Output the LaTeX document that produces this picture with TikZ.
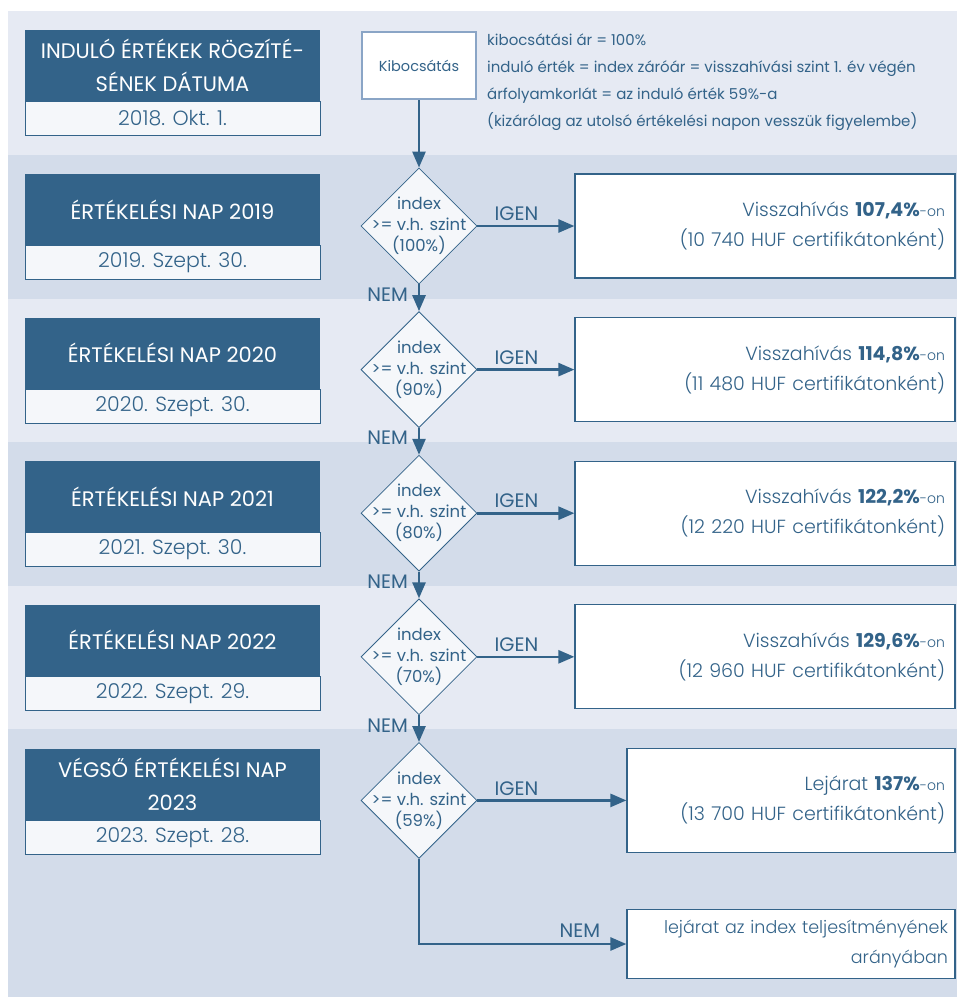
\documentclass[tikz,border=0pt]{standalone}
\usepackage{fontspec}
\setmainfont{Poppins}
\newfontfamily\thin{Poppins Light}
\usetikzlibrary{positioning,shapes.geometric,arrows.meta}

\definecolor{navy}{HTML}{336389}
\definecolor{bandA}{HTML}{E6EAF3}
\definecolor{bandB}{HTML}{D3DCEA}
\definecolor{paper}{HTML}{F5F7FA}
\definecolor{frame}{HTML}{8AA5C6}

\tikzset{
  flow/.style={navy, line width=2.6pt, -{Triangle[length=16pt,width=13pt]}},
  headbox/.style={fill=navy, text=white, minimum width=295pt, minimum height=71pt,
    align=center, inner sep=0pt, font=\fontsize{21}{33}\selectfont},
  datebox/.style={draw=navy, line width=1pt, fill=paper, text=navy, minimum width=295pt,
    minimum height=34pt, inner sep=0pt, font=\thin\fontsize{20.5}{22}\selectfont},
  decision/.style={diamond, draw=navy, fill=paper, line width=0.8pt, shape aspect=1,
    minimum width=116pt, minimum height=116pt, inner sep=0pt},
  dtext/.style={text=navy, align=center, inner sep=0pt, font=\fontsize{16.5}{21}\selectfont},
  resultbox/.style={draw=navy, fill=white, line width=1.2pt, text=navy, align=right,
    text width=360pt, inner xsep=10pt, minimum height=104pt,
    font=\thin\fontsize{19}{30}\selectfont},
  answer/.style={text=navy, inner sep=0pt, font=\fontsize{19.5}{19.5}\selectfont},
}

\begin{document}
\begin{tikzpicture}[x=1pt, y=-1pt]
  \useasboundingbox (0,0) rectangle (957,997);
  \fill[white] (0,0) rectangle (957,997);
  % bands
  \fill[bandA] (8,11) rectangle (957,155);
  \foreach \i in {1,...,4}{
    \pgfmathsetmacro\top{155+143.6*(\i-1)}
    \ifodd\i \fill[bandB] (8,\top) rectangle (957,\top+143.6);
    \else \fill[bandA] (8,\top) rectangle (957,\top+143.6); \fi
  }
  \fill[bandB] (8,729.4) rectangle (957,997);

  % start
  \node[headbox] (h0) at (172.5,65) {INDULÓ ÉRTÉKEK RÖGZÍTÉ-\\SÉNEK DÁTUMA};
  \node[datebox, below=0pt of h0] (dt0) {2018. Okt. 1.};
  \node[draw=frame, line width=2pt, fill=white, text=navy, minimum width=114pt,
    minimum height=67pt, font=\fontsize{14.5}{14.5}\selectfont] (kib) at (419,65.5) {Kibocsátás};
  \node[text=navy, anchor=north west, align=left, inner sep=0pt,
    font=\fontsize{15}{27}\selectfont] (terms) at (487,34)
    {kibocsátási ár = 100\%\\
     induló érték = index záróár = visszahívási szint 1. év végén\\
     árfolyamkorlát = az induló érték 59\%-a\\
     (kizárólag az utolsó értékelési napon vesszük figyelembe)};

  % yearly observation days
  \foreach \i/\yr/\when/\lvl/\pc/\huf in {
      1/2019/{2019. Szept. 30.}/100/{107,4}/{10 740},
      2/2020/{2020. Szept. 30.}/90/{114,8}/{11 480},
      3/2021/{2021. Szept. 30.}/80/{122,2}/{12 220},
      4/2022/{2022. Szept. 29.}/70/{129,6}/{12 960}}{
    \pgfmathsetmacro\yy{226+143.6*(\i-1)}
    \node[headbox] (h\i) at (172.5,\yy-16.5) {ÉRTÉKELÉSI NAP \yr};
    \node[datebox, below=0pt of h\i] (dt\i) {\when};
    \node[decision] (d\i) at (419,\yy) {};
    \node[dtext] (q\i) at (d\i) {index\\>= v.h. szint\\(\lvl\%)};
    \node[resultbox] (r\i) at (765,\yy)
      {Visszahívás {\normalfont\bfseries \pc\%}{\fontsize{14}{30}\selectfont-on}\\(\huf{} HUF certifikátonként)};
    \draw[flow] (d\i) -- (r\i);
    \node[answer, above right=5pt and 17pt of d\i.east] (yes\i) {IGEN};
  }

  % final observation day
  \node[headbox] (h5) at (172.5,784) {VÉGSŐ ÉRTÉKELÉSI NAP\\2023};
  \node[datebox, below=0pt of h5] (dt5) {2023. Szept. 28.};
  \node[decision] (d5) at (419,800.4) {};
  \node[dtext] (q5) at (d5) {index\\>= v.h. szint\\(59\%)};
  \node[resultbox, text width=308pt] (r5) at (791,800.4)
    {Lejárat {\normalfont\bfseries 137\%}{\fontsize{14}{30}\selectfont-on}\\(13 700 HUF certifikátonként)};
  \node[resultbox, text width=314pt, inner xsep=7pt, minimum height=69pt,
    font=\thin\fontsize{17.5}{30}\selectfont] (fin) at (791,944)
    {lejárat az index teljesítményének\\arányában};
  \draw[flow] (d5) -- (r5);
  \node[answer, above right=5pt and 17pt of d5.east] (yes5) {IGEN};
  \draw[flow] (d5.south) |- (fin.west);
  \node[answer, above left=6pt and 26pt of fin.west] (no5) {NEM};

  % NEM branches
  \draw[flow] (kib) -- (d1);
  \foreach \i/\j in {1/2,2/3,3/4,4/5}{
    \draw[flow] (d\i) -- (d\j);
    \node[answer, anchor=north east] (no\i) at ([xshift=-11pt,yshift=-3pt]d\i.south) {NEM};
  }
\end{tikzpicture}
\end{document}
